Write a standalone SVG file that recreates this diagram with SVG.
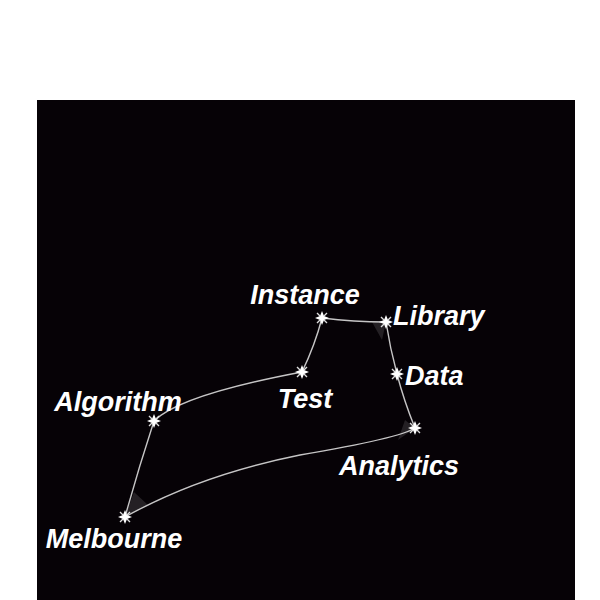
<svg xmlns="http://www.w3.org/2000/svg" width="600" height="600" viewBox="0 0 600 600">
<defs>
<style>
.lbl{font-family:"Liberation Sans",Arial,sans-serif;font-weight:bold;font-style:italic;fill:#fff;font-size:27px}
.edge{fill:none;stroke:#e8e8e8;stroke-width:1.4;stroke-opacity:0.85}
.fan{fill:#ffffff;fill-opacity:0.12}
</style>
<filter id="glow" x="-50%" y="-50%" width="200%" height="200%"><feGaussianBlur stdDeviation="0.7"/></filter>
<g id="star">
<path d="M0,-7 L2,-2 L7,0 L2,2 L0,7 L-2,2 L-7,0 L-2,-2 Z" fill="#fff" filter="url(#glow)"/>
<path d="M-5,-5 L5,5 M5,-5 L-5,5" stroke="#ddd" stroke-width="1.4" filter="url(#glow)"/>
<circle r="2.5" fill="#fff"/>
</g>
</defs>
<rect x="0" y="0" width="600" height="600" fill="#ffffff"/>
<rect x="37" y="100" width="538" height="500" fill="#060206"/>
<g id="connectors">
<path class="fan" d="M386,322 L372,322 L382,340 Z"/>
<path class="fan" d="M415,428 L405,420 L398,440 Z"/>
<path class="fan" d="M125,517 L134,492 L148,505 Z"/>
<path class="edge" d="M322,318 Q354,322 386,322"/>
<path class="edge" d="M386,322 Q390,348 397,374"/>
<path class="edge" d="M397,374 Q404,401 415,428"/>
<path class="edge" d="M415,428 Q400,438 300,455 Q200,475 125,517"/>
<path class="edge" d="M125,517 Q138,470 154,421"/>
<path class="edge" d="M154,421 Q180,395 302,372"/>
<path class="edge" d="M302,372 Q315,345 322,318"/>
</g>
<g id="node-instance"><use href="#star" x="322" y="318"/><text class="lbl" x="305" y="304" text-anchor="middle">Instance</text></g>
<g id="node-library"><use href="#star" x="386" y="322"/><text class="lbl" x="393" y="325">Library</text></g>
<g id="node-data"><use href="#star" x="397" y="374"/><text class="lbl" x="405" y="385">Data</text></g>
<g id="node-analytics"><use href="#star" x="415" y="428"/><text class="lbl" x="399" y="475" text-anchor="middle">Analytics</text></g>
<g id="node-test"><use href="#star" x="302" y="372"/><text class="lbl" x="305" y="408" text-anchor="middle">Test</text></g>
<g id="node-algorithm"><use href="#star" x="154" y="421"/><text class="lbl" x="118" y="411" text-anchor="middle">Algorithm</text></g>
<g id="node-melbourne"><use href="#star" x="125" y="517"/><text class="lbl" x="114" y="548" text-anchor="middle">Melbourne</text></g>
</svg>
